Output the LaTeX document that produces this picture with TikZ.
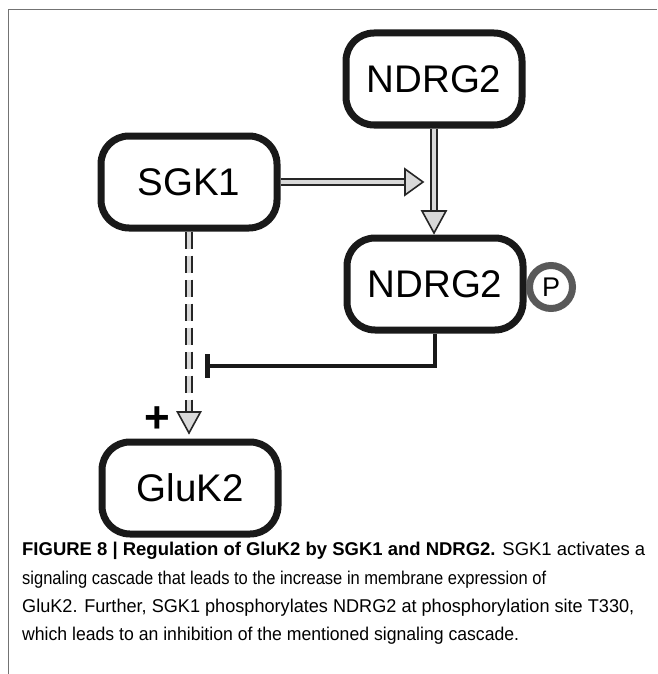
\documentclass[tikz,border=0pt]{standalone}
\usepackage{fontspec}
\setmainfont{Liberation Sans}
\usetikzlibrary{backgrounds}
\begin{document}
\begin{tikzpicture}[x=1pt,y=-1pt,
  box/.style={draw=black!90, line width=7pt, rounded corners=28pt, fill=white,
    minimum width=176pt, minimum height=92pt, inner sep=0pt, font=\fontsize{38.5}{38.5}\selectfont},
  shaft/.style={draw=black!85, line width=1.6pt, double=black!15, double distance=4.8pt},
  dshaft/.style={shaft, dash pattern=on 17pt off 7pt},
  head/.style={draw=black!85, line width=1.6pt, fill=black!15, line join=miter},
  inhib/.style={draw=black!90, line width=4pt},
  captxt/.style={anchor=base west, inner sep=0pt, font=\fontsize{18.5}{18.5}\selectfont},
  frame/.style={draw=black!55, line width=1.5pt}
]
\useasboundingbox (0,0) rectangle (657,674);
\draw[frame] (8.5,674) -- (8.5,9.5) -- (657,9.5);

\node[box] (ntop) at (434,79) {NDRG2};
\node[box] (sgk) at (189,182) {SGK1};
\node[box] (nbot) at (435,284) {NDRG2};
\node[box] (gluk) at (190,488) {GluK2};
\node[circle, draw=black!65, line width=7pt, minimum size=43pt, inner sep=0pt, fill=white,
  font=\fontsize{27}{27}\selectfont] (p) at (551,287) {P};
\node[font=\bfseries\fontsize{44}{44}\selectfont, inner sep=0pt] (plus) at (157,420) {+};

\coordinate (hbase) at (405,182);
\coordinate (vbase) at (434,211);
\coordinate (dbase) at (189,412);
\coordinate (ibar) at (207,366);

\begin{pgfonlayer}{background}
  \draw[shaft] (sgk.east) -- (hbase);
  \draw[shaft] (ntop.south) -- (vbase);
  \draw[dshaft] (sgk.south) -- (dbase);
  \draw[inhib] (nbot.south) |- (ibar);
\end{pgfonlayer}
\draw[head] (hbase) ++(0,-13) -- ++(18,13) -- ++(-18,13) -- cycle;
\draw[head] (vbase) ++(-12,0) -- ++(12,22) -- ++(12,-22) -- cycle;
\draw[head] (dbase) ++(-11.5,0) -- ++(11.5,21) -- ++(11.5,-21) -- cycle;
\draw[draw=black!90, line width=5pt] (ibar) ++(0,-12) -- ++(0,24);

\node[captxt] (c1) at (22,555) {\resizebox{623pt}{\height}{\textbf{FIGURE 8 | Regulation of GluK2 by SGK1 and NDRG2.} SGK1 activates a}};
\node[captxt] (c2) at (22,584) {\resizebox{524pt}{\height}{signaling cascade that leads to the increase in membrane expression of}};
\node[captxt] (c3) at (22,612) {\resizebox{612pt}{\height}{GluK2. Further, SGK1 phosphorylates NDRG2 at phosphorylation site T330,}};
\node[captxt] (c4) at (22,640) {\resizebox{497pt}{\height}{which leads to an inhibition of the mentioned signaling cascade.}};
\end{tikzpicture}
\end{document}
